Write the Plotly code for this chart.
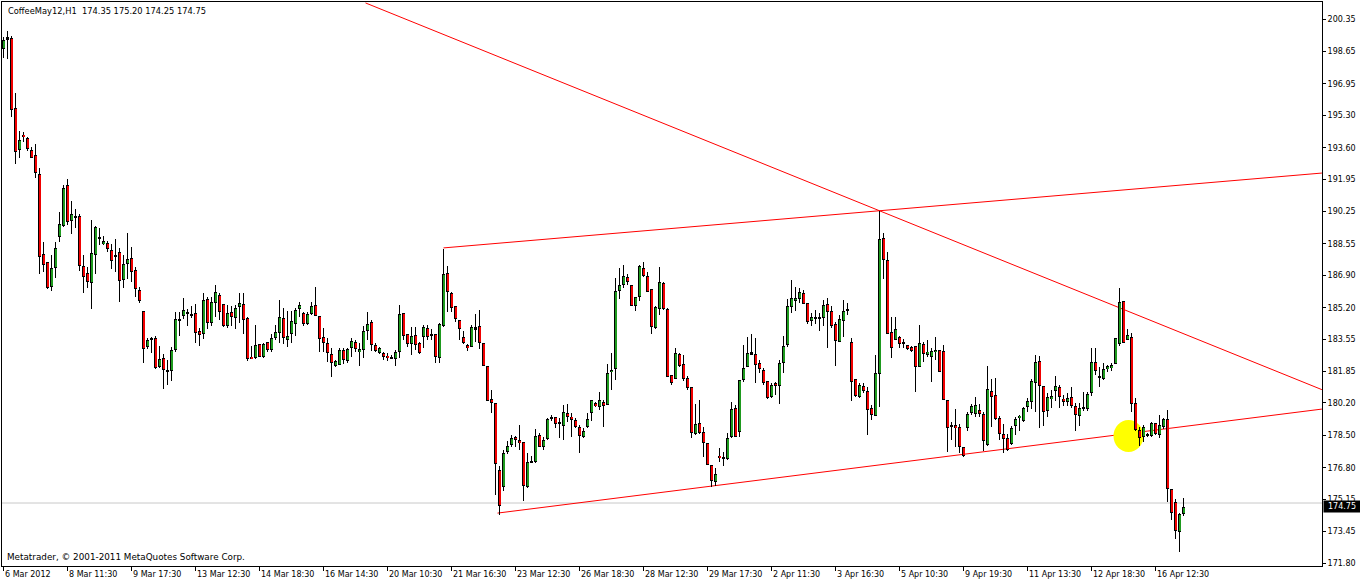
import plotly.graph_objects as go

# ---------------- data ----------------
chart_title = "CoffeeMay12,H1  174.35 175.20 174.25 174.75"
watermark = "Metatrader, \u00a9 2001-2011 MetaQuotes Software Corp."

opens = [
    198.76, 199.39, 199.34, 195.67, 193.46, 194.27, 194.11, 193.48, 193.22, 192.20,
    188.00, 187.58, 186.30, 187.30, 188.93, 189.49, 191.62, 189.77, 189.96, 190.01,
    187.39, 187.02, 186.48, 187.95, 188.83, 188.53, 188.58, 188.21, 187.91, 188.11,
    186.67, 187.51, 187.81, 187.18, 186.13, 185.03, 183.15, 183.54, 183.59, 182.10,
    182.54, 181.93, 181.89, 182.98, 184.52, 184.78, 184.96, 184.87, 184.90, 183.98,
    183.80, 185.64, 184.41, 185.43, 185.87, 185.38, 184.26, 184.96, 184.64, 185.25,
    185.40, 184.66, 182.63, 182.54, 183.28, 182.63, 183.38, 182.96, 183.63, 183.86,
    184.64, 183.52, 183.80, 184.36, 185.15, 184.91, 184.35, 184.89, 185.34, 184.77,
    183.66, 183.35, 182.77, 182.16, 182.19, 182.98, 182.42, 183.10, 183.38, 182.86,
    182.96, 183.99, 184.44, 183.23, 182.81, 182.81, 182.67, 182.53, 182.51, 182.89,
    184.91, 183.80, 183.30, 183.77, 183.37, 183.66, 184.12, 183.80, 183.80, 182.58,
    184.26, 187.00, 185.96, 185.29, 184.56, 183.65, 183.24, 183.16, 184.17, 184.24,
    183.33, 182.12, 180.39, 180.18, 176.68, 175.81, 177.61, 178.01, 178.40, 178.26,
    178.13, 175.81, 177.08, 177.12, 178.52, 177.91, 178.29, 179.36, 179.45, 179.10,
    179.01, 179.66, 179.48, 179.31, 178.92, 178.43, 178.92, 179.66, 180.22, 179.97,
    180.27, 180.08, 181.81, 181.97, 186.10, 186.39, 186.80, 186.39, 185.31, 185.78,
    187.27, 186.87, 186.18, 184.15, 185.15, 186.48, 185.12, 181.65, 181.44, 182.75,
    182.23, 181.49, 181.02, 178.55, 179.13, 178.66, 178.12, 176.93, 176.03, 177.42,
    177.35, 177.28, 178.40, 179.92, 178.66, 181.41, 182.07, 182.77, 182.75, 182.28,
    181.93, 181.37, 180.53, 181.23, 181.09, 182.32, 183.22, 185.26, 185.57, 185.64,
    185.96, 185.43, 184.52, 184.63, 184.61, 184.64, 185.40, 185.03, 184.35, 183.42,
    184.52, 185.05, 183.38, 181.44, 180.53, 181.09, 180.83, 179.92, 179.53, 181.70,
    188.84, 187.71, 183.91, 183.50, 183.68, 183.31, 183.24, 183.16, 183.21, 182.07,
    183.30, 182.72, 182.63, 182.86, 182.98, 182.95, 180.36, 179.00, 179.04, 178.96,
    177.87, 178.87, 179.66, 179.61, 179.83, 179.62, 178.00, 180.83, 180.62, 179.43,
    178.55, 178.34, 178.05, 179.01, 179.39, 179.26, 180.01, 180.24, 181.27, 182.40,
    181.09, 179.80, 180.39, 180.85, 181.06, 180.41, 180.27, 180.53, 180.04, 179.53,
    179.92, 179.87, 180.71, 182.37, 181.53, 181.48, 181.97, 182.02, 182.23, 183.28,
    185.57, 183.51, 183.68, 180.18, 178.78, 178.43, 178.48, 178.48, 179.13, 178.52,
    178.92, 179.34, 175.67, 174.98, 173.41, 174.35,
]
highs = [
    199.39, 199.73, 199.46, 196.45, 194.48, 194.41, 194.16, 193.62, 193.79, 192.52,
    188.63, 187.58, 187.97, 188.67, 190.21, 191.64, 191.96, 190.80, 190.38, 190.12,
    187.97, 187.34, 189.80, 189.49, 189.37, 188.98, 188.70, 188.53, 188.81, 188.32,
    187.97, 189.10, 188.39, 187.32, 186.27, 185.03, 183.63, 183.64, 183.71, 183.17,
    182.77, 182.45, 183.15, 184.99, 184.96, 185.69, 185.13, 185.29, 185.38, 184.15,
    185.99, 185.78, 185.78, 186.39, 185.95, 185.38, 185.34, 185.29, 185.34, 185.95,
    186.00, 184.70, 183.19, 184.29, 183.28, 183.33, 183.38, 183.82, 184.29, 185.61,
    185.17, 185.03, 185.03, 185.17, 185.50, 184.99, 184.99, 185.52, 186.31, 184.77,
    184.12, 183.59, 183.07, 182.46, 183.07, 183.07, 183.10, 183.59, 183.51, 183.33,
    184.24, 184.99, 184.56, 183.37, 183.16, 182.88, 182.81, 182.72, 182.98, 185.34,
    184.91, 183.80, 184.21, 184.21, 183.42, 184.29, 184.29, 184.07, 183.80, 184.38,
    188.27, 187.39, 186.04, 185.29, 184.56, 183.99, 183.30, 184.29, 184.87, 185.08,
    183.33, 182.12, 180.88, 180.22, 176.89, 177.73, 178.22, 178.52, 178.47, 179.04,
    178.13, 177.56, 177.41, 178.82, 178.61, 178.43, 179.39, 179.57, 179.48, 179.39,
    180.09, 180.15, 179.66, 179.39, 179.04, 178.87, 179.66, 180.36, 180.27, 180.79,
    180.36, 182.25, 182.84, 186.74, 187.27, 187.44, 186.97, 186.39, 185.75, 187.44,
    187.58, 187.09, 186.18, 185.31, 187.32, 186.53, 185.17, 181.65, 183.07, 182.81,
    182.72, 181.62, 181.06, 180.15, 180.36, 178.96, 178.12, 176.93, 176.77, 177.82,
    177.61, 178.61, 180.27, 180.09, 181.41, 183.25, 183.65, 183.81, 183.59, 182.46,
    182.05, 181.37, 181.27, 181.32, 182.46, 183.72, 185.64, 186.66, 186.27, 186.22,
    186.13, 185.43, 184.91, 185.08, 184.91, 185.60, 185.69, 185.29, 184.47, 184.82,
    185.60, 185.43, 183.59, 181.44, 181.27, 181.23, 181.02, 180.09, 182.72, 190.30,
    189.11, 188.14, 184.70, 184.73, 183.72, 183.54, 183.24, 183.21, 183.21, 184.29,
    183.42, 183.50, 183.07, 183.65, 182.98, 183.24, 180.36, 179.22, 179.87, 179.10,
    177.87, 179.74, 180.15, 180.53, 180.15, 179.74, 182.14, 181.46, 181.49, 179.52,
    179.08, 178.57, 179.01, 179.45, 179.57, 180.01, 180.44, 181.46, 182.72, 182.67,
    181.09, 180.71, 180.88, 181.63, 181.14, 180.62, 180.71, 181.02, 180.18, 180.18,
    180.79, 180.76, 183.07, 183.07, 182.07, 182.28, 182.19, 182.32, 183.59, 186.22,
    185.57, 184.07, 183.86, 180.44, 178.96, 179.05, 178.61, 179.22, 179.13, 179.57,
    179.39, 179.83, 175.67, 175.14, 174.41, 175.20,
]
lows = [
    198.29, 198.24, 195.23, 192.73, 193.04, 193.92, 193.43, 193.04, 192.03, 186.95,
    187.06, 186.20, 186.09, 186.78, 188.67, 189.45, 189.54, 189.07, 189.37, 187.13,
    185.99, 186.25, 185.11, 186.95, 188.49, 188.49, 188.14, 187.23, 187.06, 185.52,
    186.25, 186.71, 186.57, 185.78, 185.46, 182.31, 183.03, 182.80, 181.98, 182.02,
    180.91, 181.14, 181.37, 182.89, 183.73, 184.61, 184.26, 184.68, 183.36, 183.21,
    183.56, 184.06, 184.24, 184.73, 184.55, 184.20, 184.12, 184.26, 184.06, 184.41,
    183.82, 182.42, 182.49, 182.51, 182.63, 182.54, 182.89, 182.89, 183.51, 183.33,
    183.30, 183.12, 183.33, 183.73, 184.70, 184.24, 184.29, 184.80, 184.77, 182.89,
    182.89, 182.37, 181.55, 182.11, 182.19, 182.25, 182.28, 182.63, 182.89, 182.16,
    182.54, 183.51, 182.95, 182.89, 182.79, 182.46, 182.42, 182.49, 182.16, 182.54,
    183.51, 183.16, 182.72, 182.98, 182.77, 183.10, 183.51, 183.51, 182.32, 182.32,
    184.21, 184.99, 184.99, 184.47, 183.51, 183.30, 182.95, 183.16, 183.42, 183.02,
    182.16, 180.32, 179.66, 175.37, 174.32, 175.60, 177.50, 177.91, 177.91, 177.73,
    175.07, 175.72, 177.03, 177.07, 177.87, 177.73, 178.26, 179.27, 178.87, 178.38,
    178.26, 179.22, 178.43, 178.87, 177.56, 178.34, 178.87, 179.27, 180.01, 179.83,
    178.92, 180.08, 180.88, 181.41, 185.64, 186.22, 186.39, 185.31, 185.03, 185.57,
    186.83, 186.04, 183.80, 184.08, 184.82, 185.08, 181.58, 181.14, 181.44, 182.11,
    181.37, 180.88, 178.34, 178.52, 178.57, 177.35, 176.94, 175.81, 175.84, 177.12,
    176.91, 177.21, 178.34, 178.40, 178.43, 181.32, 182.07, 182.72, 181.23, 181.76,
    181.14, 180.42, 180.48, 180.62, 180.15, 181.79, 183.16, 184.91, 185.04, 185.43,
    185.40, 184.35, 184.26, 184.35, 184.00, 184.24, 183.07, 184.12, 182.16, 183.42,
    183.68, 184.82, 180.32, 180.53, 180.48, 180.71, 178.52, 179.31, 179.53, 180.01,
    186.71, 183.82, 182.58, 183.50, 183.07, 183.07, 182.98, 182.89, 180.79, 182.07,
    182.37, 182.63, 181.32, 182.46, 181.84, 180.36, 177.64, 178.25, 177.90, 177.56,
    177.38, 178.75, 179.57, 179.45, 179.45, 177.67, 177.94, 178.96, 179.31, 178.26,
    177.56, 177.70, 178.00, 178.52, 178.75, 179.22, 179.74, 179.88, 179.74, 178.87,
    179.01, 179.45, 179.92, 180.32, 179.92, 180.04, 180.04, 179.95, 178.75, 179.01,
    179.80, 179.80, 180.58, 181.67, 181.02, 181.41, 181.84, 181.90, 182.23, 183.21,
    183.37, 183.51, 179.74, 178.75, 177.96, 178.17, 178.43, 178.43, 178.52, 178.34,
    178.83, 174.98, 174.06, 173.04, 172.40, 174.25,
]
closes = [
    199.25, 199.29, 195.56, 193.39, 194.00, 194.14, 193.51, 193.04, 192.25, 187.84,
    187.44, 186.25, 187.27, 188.32, 189.58, 191.47, 189.72, 190.10, 189.99, 187.41,
    186.79, 186.57, 188.05, 189.44, 188.85, 188.70, 188.26, 187.67, 187.97, 186.62,
    187.49, 187.76, 187.06, 186.20, 185.55, 183.05, 183.50, 183.57, 182.05, 182.51,
    181.95, 181.84, 182.98, 184.61, 184.61, 185.08, 184.89, 184.78, 183.85, 183.77,
    185.60, 184.38, 185.52, 186.02, 184.99, 184.26, 184.90, 184.73, 185.17, 185.43,
    184.56, 182.51, 182.49, 183.23, 182.63, 183.28, 182.98, 183.59, 183.93, 184.70,
    183.59, 183.70, 184.50, 185.08, 185.32, 184.33, 184.87, 185.29, 184.77, 183.58,
    183.37, 182.81, 182.32, 182.41, 182.98, 182.46, 183.03, 183.45, 183.02, 183.03,
    183.99, 184.35, 183.23, 182.91, 183.09, 182.60, 182.54, 182.63, 182.86, 184.87,
    183.73, 183.28, 183.72, 183.24, 182.81, 184.17, 183.66, 183.73, 182.63, 184.33,
    186.97, 186.01, 185.20, 184.59, 184.07, 183.33, 183.07, 184.17, 184.07, 183.37,
    182.16, 180.32, 180.22, 176.98, 174.81, 177.59, 177.96, 178.34, 178.26, 178.08,
    175.86, 177.10, 177.15, 178.47, 177.91, 178.26, 179.34, 179.38, 179.08, 179.17,
    179.71, 179.48, 179.31, 178.96, 178.48, 178.73, 179.34, 180.36, 180.04, 180.36,
    180.06, 181.76, 181.93, 186.08, 186.39, 186.87, 186.57, 185.31, 185.75, 187.39,
    186.88, 186.04, 184.21, 185.22, 186.53, 185.13, 181.58, 181.23, 182.81, 182.14,
    181.44, 180.97, 178.61, 179.10, 178.61, 178.08, 176.94, 176.10, 176.47, 177.29,
    177.24, 178.36, 179.87, 178.40, 181.41, 182.02, 182.81, 182.86, 182.19, 181.97,
    181.23, 180.48, 181.14, 181.11, 182.28, 183.19, 185.29, 185.70, 185.70, 186.03,
    185.40, 184.47, 184.73, 184.66, 184.68, 185.34, 184.96, 184.26, 183.47, 184.61,
    185.03, 185.07, 181.32, 180.58, 181.14, 180.83, 179.83, 179.57, 181.76, 188.79,
    187.71, 183.82, 183.10, 184.08, 183.28, 183.35, 183.02, 182.95, 182.11, 183.33,
    182.77, 182.89, 182.93, 182.98, 181.84, 180.36, 178.90, 178.96, 178.87, 177.91,
    177.42, 179.62, 180.04, 180.09, 179.61, 178.22, 180.93, 180.53, 179.34, 178.55,
    178.29, 177.73, 178.87, 179.34, 179.52, 179.96, 180.31, 181.35, 182.33, 181.09,
    179.74, 180.50, 180.57, 181.09, 180.53, 180.27, 180.48, 180.04, 179.57, 179.92,
    179.99, 180.67, 182.37, 181.90, 181.58, 181.97, 182.14, 182.19, 183.59, 185.48,
    183.37, 183.77, 180.13, 178.78, 178.34, 178.92, 178.52, 179.17, 178.57, 179.04,
    179.34, 175.69, 174.44, 173.50, 174.36, 174.75,
]
bars = list(range(len(opens)))

time_labels = [
    "6 Mar 2012", "8 Mar 11:30", "9 Mar 17:30", "13 Mar 12:30", "14 Mar 18:30",
    "16 Mar 14:30", "20 Mar 10:30", "21 Mar 16:30", "23 Mar 12:30", "26 Mar 18:30",
    "28 Mar 12:30", "29 Mar 17:30", "2 Apr 11:30", "3 Apr 16:30", "5 Apr 10:30",
    "9 Apr 19:30", "11 Apr 13:30", "12 Apr 18:30", "16 Apr 12:30",
]
time_label_bars = [16 * k for k in range(len(time_labels))]

price_ticks = [200.35, 198.65, 196.95, 195.30, 193.60, 191.95, 190.25, 188.55,
               186.90, 185.20, 183.55, 181.85, 180.20, 178.50, 176.80, 175.15,
               173.45, 171.80]

bid_price = 174.75
ask_price = 174.95

# trend lines: (bar, price) -> (bar, price)
trend_lines = [
    ((90.5, 201.20), (329.6, 180.90)),
    ((110.0, 188.34), (329.6, 192.27)),
    ((123.5, 174.42), (329.6, 179.88)),
]
highlight_center = (281.25, 178.47)
highlight_radius = (3.75, 0.84)   # in bars, price units

# ---------------- figure ----------------
FONT = "DejaVu Sans"
BULL = "#1E9A1E"
BEAR = "#F00000"
PLOT_H = 564                      # plot height in px
X_RANGE = [-0.375, 329.625]       # bar centres land on pixel centres
Y_RANGE = [171.643, 201.249]
PX = (Y_RANGE[1] - Y_RANGE[0]) / PLOT_H   # one pixel in price units

body_lo = [min(o, c) for o, c in zip(opens, closes)]
body_hi = [max(o, c) for o, c in zip(opens, closes)]
body_h = [max(h - l, PX) for l, h in zip(body_lo, body_hi)]
inner_idx = [i for i in bars if body_hi[i] - body_lo[i] > 2.2 * PX]
inner_x = [i + 0.125 for i in inner_idx]
inner_base = [body_lo[i] + PX for i in inner_idx]
inner_h = [body_hi[i] - body_lo[i] - 2 * PX for i in inner_idx]
inner_col = [BULL if closes[i] >= opens[i] else BEAR for i in inner_idx]

fig = go.Figure()
# wicks (1 px)
fig.add_trace(go.Bar(x=bars, base=lows, y=[h - l for h, l in zip(highs, lows)],
                     width=0.25, marker=dict(color="black", line=dict(width=0)),
                     hoverinfo="skip", showlegend=False))
# body outline (3 px black)
fig.add_trace(go.Bar(x=bars, base=body_lo, y=body_h, width=0.75,
                     marker=dict(color="black", line=dict(width=0)),
                     hoverinfo="skip", showlegend=False))
# body fill
fig.add_trace(go.Bar(x=inner_x, base=inner_base, y=inner_h, width=0.5,
                     marker=dict(color=inner_col, line=dict(width=0)),
                     hoverinfo="skip", showlegend=False))

shapes = []
shapes.append(dict(type="line", xref="x", yref="y", x0=X_RANGE[0], x1=X_RANGE[1],
                   y0=ask_price, y1=ask_price, layer="below",
                   line=dict(color="#C8C8C8", width=1)))
for (a, b) in trend_lines:
    shapes.append(dict(type="line", xref="x", yref="y", x0=a[0], y0=a[1],
                       x1=b[0], y1=b[1], layer="below",
                       line=dict(color="#FF0000", width=1)))
cx, cy = highlight_center
rx, ry = highlight_radius
shapes.append(dict(type="circle", xref="x", yref="y", x0=cx - rx, x1=cx + rx,
                   y0=cy - ry, y1=cy + ry, layer="below",
                   fillcolor="#FFFF00", line=dict(width=0)))

annotations = []
for b, t in zip(time_label_bars, time_labels):
    annotations.append(dict(x=b, xref="x", y=0, yref="paper", text=t,
                            showarrow=False, xanchor="left", yanchor="top",
                            xshift=-1, yshift=-2,
                            font=dict(family=FONT, size=8, color="black")))
annotations.append(dict(x=0, xref="paper", y=1, yref="paper", text=chart_title,
                        showarrow=False, xanchor="left", yanchor="top",
                        xshift=4, yshift=-2,
                        font=dict(family=FONT, size=8.3, color="black")))
annotations.append(dict(x=0, xref="paper", y=0, yref="paper", text=watermark,
                        showarrow=False, xanchor="left", yanchor="bottom",
                        xshift=3, yshift=2,
                        font=dict(family=FONT, size=8.8, color="black")))
annotations.append(dict(x=1, xref="paper", y=bid_price, yref="y",
                        text="%.2f" % bid_price, showarrow=False,
                        xanchor="left", yanchor="middle", xshift=1,
                        bgcolor="black", borderpad=1, width=34,
                        font=dict(family=FONT, size=8, color="white")))

fig.update_layout(
    width=1360, height=583,
    margin=dict(l=2, r=38, t=2, b=17),
    paper_bgcolor="white", plot_bgcolor="white",
    barmode="overlay", bargap=0, bargroupgap=0,
    shapes=shapes, annotations=annotations,
    showlegend=False,
    xaxis=dict(range=X_RANGE, showgrid=False, zeroline=False,
               showline=True, linecolor="black", linewidth=1, mirror=True,
               ticks="outside", ticklen=4, tickcolor="black", tickwidth=1,
               tickvals=time_label_bars, showticklabels=False, fixedrange=True),
    yaxis=dict(range=Y_RANGE, side="right", showgrid=False, zeroline=False,
               showline=True, linecolor="black", linewidth=1, mirror=True,
               ticks="outside", ticklen=3, tickcolor="black", tickwidth=1,
               tickvals=price_ticks, ticktext=["%.2f" % v for v in price_ticks],
               tickfont=dict(family=FONT, size=8, color="black"),
               fixedrange=True),
)

fig.write_html("out.html", include_plotlyjs=True, full_html=True,
               default_width=1360, default_height=583,
               config={"displayModeBar": False},
               post_script="document.body.style.margin='0';document.body.style.overflow='hidden';")
